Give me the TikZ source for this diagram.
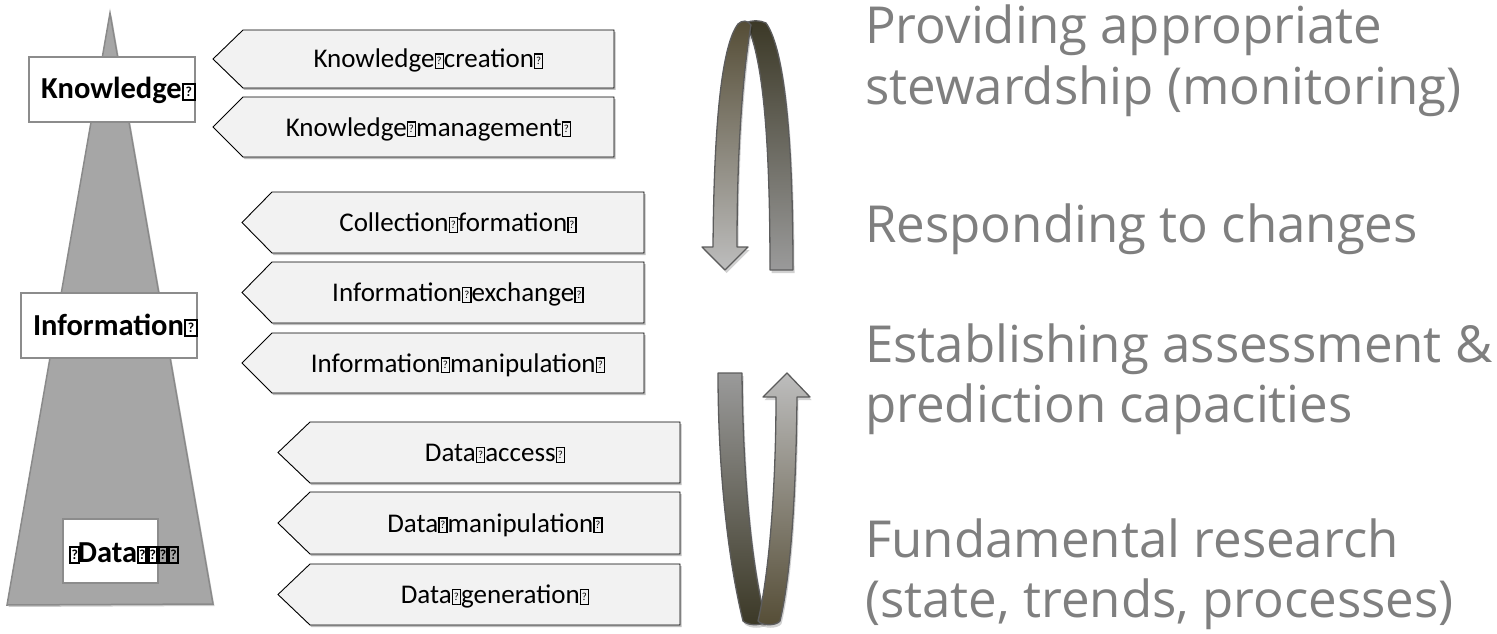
\documentclass[tikz,border=0pt]{standalone}
\usepackage{fontspec}
\setmainfont{Carlito}
\newfontfamily\sidefont{Open Sans}
\usepackage{graphicx}
\usetikzlibrary{shadows}

% placeholder glyph box (regular and bold weight)
\newcommand\nd{{\setlength{\fboxsep}{0pt}\setlength{\fboxrule}{0.05em}%
  \fbox{\makebox[0.25em]{\rule{0pt}{0.5em}\raisebox{0.12em}{\scalebox{0.4}{?}}}}}}
\newcommand\ndb[1][0.32em]{{\setlength{\fboxsep}{0pt}\setlength{\fboxrule}{0.07em}%
  \fbox{\makebox[#1]{\rule{0pt}{0.46em}\raisebox{0.08em}{\scalebox{0.45}{?}}}}}}

\definecolor{boxfill}{HTML}{F2F2F2}
\definecolor{pyrfill}{HTML}{A6A6A6}
\definecolor{pyrline}{HTML}{8A8A8A}
\definecolor{framegray}{HTML}{8C8C8C}
\definecolor{sidegray}{HTML}{7F7F7F}
\definecolor{ribbonline}{HTML}{5C5C5C}
\definecolor{rolive}{HTML}{554D36}
\definecolor{rdark}{HTML}{3B3826}
\definecolor{rgrayA}{HTML}{BDBDBD}
\definecolor{rgrayB}{HTML}{9A9A9A}

\tikzset{
  tagbox/.style={draw=black, line width=0.9pt, fill=boxfill,
    drop shadow={shadow xshift=1.5pt, shadow yshift=-2pt, opacity=0.25, fill=black}},
  tagtext/.style={font=\fontsize{27}{32}\selectfont, inner sep=0pt, anchor=base},
  pyramid/.style={draw=pyrline, line width=1.5pt, fill=pyrfill,
    drop shadow={shadow xshift=1.5pt, shadow yshift=-2pt, opacity=0.2, fill=black}},
  levelbox/.style={draw=framegray, line width=1.5pt, fill=white},
  leveltext/.style={font=\bfseries\fontsize{30.5}{35}\selectfont, inner sep=0pt, anchor=base},
  side/.style={font=\sidefont\fontsize{51}{62}\selectfont, text=sidegray,
    anchor=base west, inner sep=0pt},
  ribbon/.style={draw=ribbonline, line width=1.3pt, line join=round,
    drop shadow={shadow xshift=1.5pt, shadow yshift=-3pt, opacity=0.18, fill=black}},
}

% arrow-shaped tag: tip x, notch x, right x, top y, bottom y
\newcommand\tagshape[5]{%
  \draw[tagbox] (#1,{(#4+#5)/2}) -- (#2,#4) -- (#3,#4) -- (#3,#5) -- (#2,#5) -- cycle;}

\begin{document}
\begin{tikzpicture}[x=1pt, y=-1pt]
\useasboundingbox (0,0) rectangle (1497,634);

% pyramid with the three levels
\draw[pyramid] (110,13) -- (213,604) -- (7,605) -- cycle;
\draw[levelbox] (29,57) rectangle (195,122);
\draw[levelbox] (21,293) rectangle (197,358);
\draw[levelbox] (63,519) rectangle (158,583);
\node[leveltext] (knowledge) at (118.5,99) {Knowledge\ndb};
\node[leveltext] (information) at (115.5,335) {Information\ndb};
\node[leveltext] (data) at (124,562)
  {\ndb[0.22em]\kern-0.08em Data\ndb[0.2em]\ndb[0.2em]\ndb[0.2em]\ndb[0.2em]};

% activity tags
\tagshape{213}{243}{614}{30}{88}
\tagshape{213}{243}{614}{97}{157}
\tagshape{242}{272}{644}{192}{253}
\tagshape{242}{272}{644}{262}{323}
\tagshape{242}{272}{644}{333}{393}
\tagshape{278}{310}{680}{422}{483}
\tagshape{278}{310}{680}{492}{554}
\tagshape{278}{310}{680}{564}{625}
\node[tagtext] (kc) at (428.5,68) {Knowledge\nd creation\nd};
\node[tagtext] (km) at (428.5,136) {Knowledge\nd management\nd};
\node[tagtext] (cf) at (458,231.5) {Collection\nd formation\nd};
\node[tagtext] (ie) at (458,301.5) {Information\nd exchange\nd};
\node[tagtext] (im) at (458,372) {Information\nd manipulation\nd};
\node[tagtext] (da) at (495,461.5) {Data\nd access\nd};
\node[tagtext] (dm) at (495,532) {Data\nd manipulation\nd};
\node[tagtext] (dg) at (495,603.5) {Data\nd generation\nd};

% upper loop arrow: back strand, then front strand with head
\path[ribbon, top color=rdark, bottom color=rgrayB]
  (746,23) .. controls (751,20) and (760,20) .. (766,23)
  .. controls (782,45) and (793,120) .. (793,270) -- (770,270)
  .. controls (770,130) and (762,55) .. (746,23) -- cycle;
\path[ribbon, top color=rolive, bottom color=rgrayA]
  (713,247) .. controls (714,120) and (722,45) .. (738,24)
  .. controls (742,20) and (748,20) .. (751,25)
  .. controls (745,60) and (737,130) .. (737,247)
  -- (748,247) -- (725,270) -- (702,247) -- cycle;

% lower loop arrow: back strand, then front strand with head
\path[ribbon, top color=rgrayB, bottom color=rdark]
  (718,373) -- (742,373) .. controls (743,480) and (752,570) .. (766,621)
  .. controls (762,626) and (748,626) .. (743,621)
  .. controls (728,560) and (718,470) .. (718,373) -- cycle;
\path[ribbon, top color=rgrayA, bottom color=rolive]
  (787,373) -- (810,397) -- (797,397) .. controls (796,500) and (790,580) .. (780,621)
  .. controls (776,626) and (762,626) .. (758,621)
  .. controls (770,570) and (776,480) .. (776,397) -- (763,397) -- cycle;

% goals
\node[side] (g1a) at (865,44) {Providing appropriate};
\node[side] (g1b) at (865,104) {stewardship (monitoring)};
\node[side] (g2) at (865,242) {Responding to changes};
\node[side] (g3a) at (865,362) {Establishing assessment \&};
\node[side] (g3b) at (865,422) {prediction capacities};
\node[side] (g4a) at (865,557) {Fundamental research};
\node[side] (g4b) at (865,617) {(state, trends, processes)};
\end{tikzpicture}
\end{document}
